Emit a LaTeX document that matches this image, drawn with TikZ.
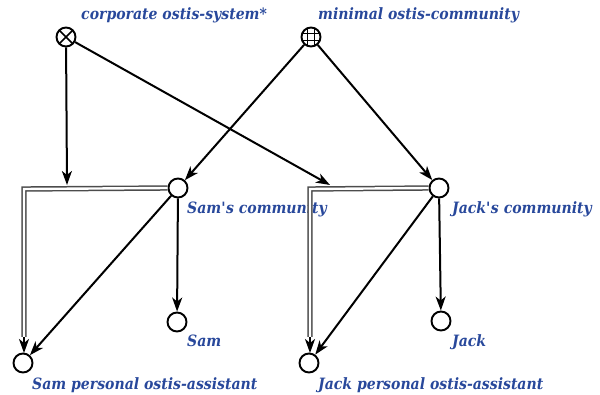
\documentclass[tikz,border=0pt]{standalone}
\usepackage{fontspec}
\setmainfont{DejaVu Serif}[FakeStretch=0.9]
\usetikzlibrary{arrows.meta,calc}
\definecolor{lblue}{RGB}{40,72,155}
\begin{document}
\begin{tikzpicture}[x=1pt,y=-1pt,
  vnode/.style={circle,draw,line width=1.9pt,minimum size=19pt,inner sep=0pt},
  lbl/.style={text=lblue,font=\bfseries\itshape\fontsize{15.6}{17}\selectfont,anchor=base west,inner sep=0pt},
  arr/.style={line width=2pt,-{Stealth[length=14pt,width=10pt,inset=4pt]}},
  dbl/.style={draw=gray!60!black,double=white,double distance=2.4pt,line width=1.5pt}]
\useasboundingbox (0,0) rectangle (600,395);
% nodes
\node[vnode] (co) at (66,37) {};
\node[vnode] (mo) at (311,37) {};
\node[vnode] (sc) at (178,188) {};
\node[vnode] (jc) at (439,188) {};
\node[vnode] (sa) at (177,322) {};
\node[vnode] (ja) at (441,321) {};
\node[vnode] (sp) at (23,363) {};
\node[vnode] (jp) at (309,363) {};
% symbols inside
\draw[line width=1.7pt] ($(co.center)+(-6.5,-6.5)$) -- ($(co.center)+(6.5,6.5)$)
                         ($(co.center)+(-6.5,6.5)$) -- ($(co.center)+(6.5,-6.5)$);
\begin{scope}
  \clip (mo.center) circle (9pt);
  \draw[line width=1pt] ($(mo.center)+(-3.3,-10)$) -- ($(mo.center)+(-3.3,10)$)
                        ($(mo.center)+(3.3,-10)$) -- ($(mo.center)+(3.3,10)$)
                        ($(mo.center)+(-10,-3.3)$) -- ($(mo.center)+(10,-3.3)$)
                        ($(mo.center)+(-10,3.3)$) -- ($(mo.center)+(10,3.3)$);
\end{scope}
% labels
\node[lbl] (lco) at (81,20) {corporate ostis-system*};
\node[lbl] (lmo) at (318,20) {minimal ostis-community};
\node[lbl] (lsc) at (187,214) {Sam\textquotesingle s community};
\node[lbl] (ljc) at (452,214) {Jack\textquotesingle s community};
\node[lbl] (lsa) at (187,347) {Sam};
\node[lbl] (lja) at (452,347) {Jack};
\node[lbl] (lsp) at (32,390) {Sam personal ostis-assistant};
\node[lbl] (ljp) at (318,390) {Jack personal ostis-assistant};
% double connectors
\coordinate (sk) at (24,189);
\coordinate (jk) at (310,189);
\coordinate (spt) at (24,337);
\coordinate (jpt) at (310,337);
\coordinate (spe) at (24,353);
\coordinate (jpe) at (310,353);
\draw[dbl] (sc.west) -- (sk) -- (spt);
\draw[dbl] (jc.west) -- (jk) -- (jpt);
\draw[arr] (spt) -- (spe);
\draw[arr] (jpt) -- (jpe);
% attachments to double connectors
\coordinate (cs) at (67,185);
\coordinate (cj) at (330,185);
\draw[arr] (co) -- (cs);
\draw[arr] (co) -- (cj);
% other arcs
\draw[arr] (mo) -- (sc);
\draw[arr] (mo) -- (jc);
\draw[arr] (sc) -- (sp);
\draw[arr] (sc) -- (sa);
\draw[arr] (jc) -- (jp);
\draw[arr] (jc) -- (ja);
\end{tikzpicture}
\end{document}
